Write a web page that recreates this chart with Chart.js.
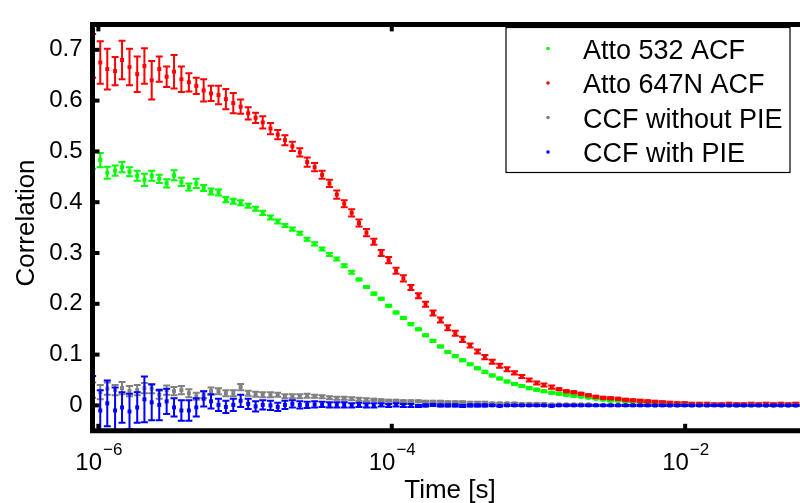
<!DOCTYPE html>
<html>
<head>
<meta charset="utf-8">
<script src="https://cdn.jsdelivr.net/npm/chart.js@4.4.0/dist/chart.umd.min.js"></script>
<style>
html, body { margin: 0; padding: 0; overflow: hidden; background: #fff; }
#wrap { width: 810px; height: 503px; }
</style>
</head>
<body>
<div id="wrap"><canvas id="fcsChart" width="810" height="503"></canvas></div>
<script>
// lag times [s]
const tau = [
  9.14e-7, 1.03e-6, 1.15e-6, 1.30e-6, 1.45e-6, 1.63e-6, 1.84e-6, 2.06e-6, 2.31e-6, 2.60e-6,
  2.92e-6, 3.28e-6, 3.68e-6, 4.14e-6, 4.65e-6, 5.22e-6, 5.86e-6, 6.59e-6, 7.40e-6, 8.31e-6,
  9.33e-6, 1.05e-5, 1.18e-5, 1.32e-5, 1.49e-5, 1.67e-5, 1.87e-5, 2.10e-5, 2.36e-5, 2.65e-5,
  2.98e-5, 3.35e-5, 3.76e-5, 4.22e-5, 4.74e-5, 5.33e-5, 5.98e-5, 6.72e-5, 7.55e-5, 8.48e-5,
  9.52e-5, 1.07e-4, 1.20e-4, 1.35e-4, 1.52e-4, 1.70e-4, 1.91e-4, 2.15e-4, 2.41e-4, 2.71e-4,
  3.04e-4, 3.42e-4, 3.84e-4, 4.31e-4, 4.84e-4, 5.44e-4, 6.11e-4, 6.86e-4, 7.70e-4, 8.65e-4,
  9.72e-4, 1.09e-3, 1.23e-3, 1.38e-3, 1.55e-3, 1.74e-3, 1.95e-3, 2.19e-3, 2.46e-3, 2.76e-3,
  3.10e-3, 3.49e-3, 3.92e-3, 4.40e-3, 4.94e-3, 5.55e-3, 6.23e-3, 7.00e-3, 7.86e-3, 8.83e-3,
  9.92e-3, 1.11e-2, 1.25e-2, 1.41e-2, 1.58e-2, 1.77e-2, 1.99e-2, 2.24e-2, 2.51e-2, 2.82e-2,
  3.17e-2, 3.56e-2, 4.00e-2, 4.49e-2, 5.04e-2, 5.66e-2, 6.36e-2
];

const atto532 = [
  0.482, 0.483, 0.458, 0.462, 0.469, 0.460, 0.452, 0.444, 0.452, 0.446,
  0.437, 0.453, 0.440, 0.430, 0.437, 0.428, 0.421, 0.419, 0.405, 0.402,
  0.399, 0.393, 0.387, 0.379, 0.370, 0.362, 0.354, 0.347, 0.339, 0.327,
  0.318, 0.308, 0.297, 0.288, 0.275, 0.262, 0.248, 0.233, 0.220, 0.210,
  0.196, 0.183, 0.172, 0.160, 0.150, 0.138, 0.127, 0.116, 0.105, 0.097,
  0.089, 0.081, 0.073, 0.066, 0.059, 0.053, 0.047, 0.042, 0.038, 0.034,
  0.031, 0.028, 0.025, 0.023, 0.021, 0.019, 0.017, 0.015, 0.013, 0.011,
  0.009, 0.009, 0.008, 0.007, 0.006, 0.005, 0.004, 0.004, 0.003, 0.003,
  0.002, 0.002, 0.002, 0.001, 0.001, 0.001, 0.001, 0.000, 0.001, 0.000,
  0.001, 0.000, 0.000, 0.001, 0.000, 0.000, 0.000
];
const atto532Err = [
  0.016, 0.014, 0.012, 0.010, 0.010, 0.009, 0.010, 0.012, 0.010, 0.008,
  0.008, 0.010, 0.008, 0.007, 0.009, 0.006, 0.006, 0.006, 0.005, 0.005,
  0.005, 0.004, 0.004, 0.004, 0.004, 0.004, 0.003, 0.003, 0.003, 0.003,
  0.003, 0.003, 0.003, 0.003, 0.003, 0.003, 0.002, 0.002, 0.002, 0.002,
  0.002, 0.002, 0.002, 0.002, 0.002, 0.002, 0.002, 0.002, 0.002, 0.002,
  0.002, 0.002, 0.002, 0.002, 0.002, 0.002, 0.002, 0.002, 0.002, 0.002,
  0.002, 0.002, 0.002, 0.002, 0.002, 0.002, 0.001, 0.001, 0.001, 0.001,
  0.001, 0.001, 0.001, 0.001, 0.001, 0.001, 0.001, 0.001, 0.001, 0.001,
  0.001, 0.001, 0.001, 0.001, 0.001, 0.001, 0.001, 0.001, 0.001, 0.001,
  0.001, 0.001, 0.001, 0.001, 0.001, 0.001, 0.001
];

const atto647N = [
  0.688, 0.675, 0.662, 0.658, 0.680, 0.666, 0.652, 0.668, 0.640, 0.662,
  0.647, 0.657, 0.642, 0.636, 0.629, 0.620, 0.614, 0.611, 0.603, 0.595,
  0.588, 0.575, 0.566, 0.557, 0.545, 0.533, 0.522, 0.510, 0.498, 0.479,
  0.469, 0.454, 0.437, 0.415, 0.397, 0.379, 0.359, 0.340, 0.322, 0.300,
  0.286, 0.265, 0.250, 0.232, 0.216, 0.199, 0.182, 0.168, 0.153, 0.142,
  0.130, 0.118, 0.106, 0.095, 0.086, 0.078, 0.071, 0.064, 0.057, 0.050,
  0.044, 0.040, 0.036, 0.032, 0.028, 0.026, 0.023, 0.020, 0.017, 0.015,
  0.014, 0.013, 0.011, 0.010, 0.009, 0.008, 0.007, 0.006, 0.005, 0.004,
  0.004, 0.003, 0.003, 0.003, 0.002, 0.002, 0.003, 0.002, 0.002, 0.003,
  0.002, 0.003, 0.002, 0.003, 0.002, 0.003, 0.002
];
const atto647NErr = [
  0.043, 0.042, 0.040, 0.028, 0.038, 0.036, 0.035, 0.035, 0.038, 0.025,
  0.020, 0.033, 0.025, 0.018, 0.016, 0.022, 0.015, 0.018, 0.020, 0.020,
  0.014, 0.012, 0.010, 0.012, 0.011, 0.009, 0.010, 0.009, 0.008, 0.009,
  0.008, 0.008, 0.007, 0.008, 0.007, 0.007, 0.007, 0.007, 0.006, 0.006,
  0.006, 0.006, 0.006, 0.005, 0.005, 0.005, 0.005, 0.005, 0.005, 0.005,
  0.005, 0.004, 0.004, 0.004, 0.004, 0.004, 0.004, 0.003, 0.003, 0.003,
  0.003, 0.003, 0.003, 0.002, 0.002, 0.002, 0.002, 0.002, 0.002, 0.002,
  0.002, 0.002, 0.002, 0.002, 0.002, 0.002, 0.002, 0.002, 0.002, 0.002,
  0.002, 0.002, 0.002, 0.002, 0.002, 0.002, 0.002, 0.002, 0.002, 0.002,
  0.002, 0.002, 0.002, 0.002, 0.002, 0.002, 0.002
];

const ccfNoPie = [
  0.030, 0.026, 0.033, 0.030, 0.034, 0.028, 0.030, 0.034, 0.033, 0.021,
  0.030, 0.028, 0.030, 0.024, 0.018, 0.021, 0.028, 0.028, 0.024, 0.024,
  0.036, 0.024, 0.022, 0.021, 0.021, 0.021, 0.018, 0.018, 0.018, 0.019,
  0.018, 0.017, 0.015, 0.014, 0.014, 0.013, 0.012, 0.011, 0.011, 0.010,
  0.009, 0.009, 0.008, 0.008, 0.008, 0.007, 0.007, 0.007, 0.006, 0.006,
  0.006, 0.005, 0.005, 0.005, 0.004, 0.004, 0.004, 0.004, 0.003, 0.003,
  0.003, 0.003, 0.002, 0.002, 0.002, 0.002, 0.002, 0.002, 0.001, 0.001,
  0.001, 0.001, 0.001, 0.001, 0.001, 0.001, 0.000, 0.001, 0.000, 0.000,
  0.001, 0.000, 0.000, 0.000, 0.001, 0.000, 0.000, 0.000, 0.000, 0.001,
  0.000, 0.000, 0.000, 0.000, 0.000, 0.000, 0.000
];
const ccfNoPieErr = [
  0.015, 0.014, 0.012, 0.010, 0.012, 0.010, 0.010, 0.010, 0.009, 0.008,
  0.009, 0.008, 0.008, 0.008, 0.007, 0.007, 0.007, 0.006, 0.006, 0.006,
  0.006, 0.005, 0.005, 0.005, 0.005, 0.004, 0.004, 0.004, 0.004, 0.004,
  0.003, 0.003, 0.003, 0.003, 0.003, 0.003, 0.003, 0.003, 0.002, 0.002,
  0.002, 0.002, 0.002, 0.002, 0.002, 0.002, 0.002, 0.002, 0.002, 0.002,
  0.002, 0.002, 0.002, 0.002, 0.001, 0.001, 0.001, 0.001, 0.001, 0.001,
  0.001, 0.001, 0.001, 0.001, 0.001, 0.001, 0.001, 0.001, 0.001, 0.001,
  0.001, 0.001, 0.001, 0.001, 0.001, 0.001, 0.001, 0.001, 0.001, 0.001,
  0.001, 0.001, 0.001, 0.001, 0.001, 0.001, 0.001, 0.001, 0.001, 0.001,
  0.001, 0.001, 0.001, 0.001, 0.001, 0.001, 0.001
];

const ccfPie = [
  0.003, -0.010, 0.004, -0.010, -0.004, -0.012, -0.004, 0.012, 0.006, 0.001,
  0.008, -0.004, -0.010, -0.010, -0.004, 0.013, 0.008, 0.001, -0.003, 0.001,
  0.009, 0.003, -0.002, 0.001, 0.000, -0.003, 0.001, 0.003, 0.001, 0.001,
  0.002, 0.002, 0.001, 0.001, 0.001, 0.000, 0.001, 0.000, 0.000, 0.001,
  0.000, 0.001, 0.000, 0.000, -0.001, 0.000, 0.001, 0.000, 0.000, 0.000,
  -0.001, 0.000, 0.000, 0.000, 0.000, -0.001, 0.000, 0.000, 0.000, 0.000,
  0.000, 0.000, -0.001, 0.000, 0.000, 0.000, 0.000, 0.000, 0.000, 0.000,
  0.000, 0.000, 0.000, 0.000, 0.000, 0.000, 0.000, 0.000, 0.000, 0.000,
  0.000, 0.000, 0.000, 0.000, 0.000, 0.000, 0.000, 0.000, 0.000, 0.000,
  0.000, 0.000, 0.000, 0.000, 0.000, 0.000, 0.000
];
const ccfPieErr = [
  0.055, 0.040, 0.045, 0.045, 0.030, 0.035, 0.030, 0.045, 0.035, 0.030,
  0.025, 0.018, 0.020, 0.020, 0.018, 0.015, 0.014, 0.012, 0.012, 0.012,
  0.012, 0.010, 0.010, 0.009, 0.009, 0.008, 0.008, 0.007, 0.007, 0.006,
  0.006, 0.005, 0.005, 0.005, 0.005, 0.004, 0.004, 0.004, 0.004, 0.003,
  0.003, 0.003, 0.003, 0.003, 0.002, 0.002, 0.002, 0.002, 0.002, 0.002,
  0.002, 0.002, 0.002, 0.002, 0.001, 0.001, 0.001, 0.001, 0.001, 0.001,
  0.001, 0.001, 0.001, 0.001, 0.001, 0.001, 0.001, 0.001, 0.001, 0.001,
  0.001, 0.001, 0.001, 0.001, 0.001, 0.001, 0.001, 0.001, 0.001, 0.001,
  0.001, 0.001, 0.001, 0.001, 0.001, 0.001, 0.001, 0.001, 0.001, 0.001,
  0.001, 0.001, 0.001, 0.001, 0.001, 0.001, 0.001
];

const yTicks = [0, 0.1, 0.2, 0.3, 0.4, 0.5, 0.6, 0.7];
const xTicks = [1e-6, 1e-4, 1e-2];
const xTickExp = ['\u22126', '\u22124', '\u22122'];

const FONT = '"Liberation Sans", Arial, Helvetica, sans-serif';

function pts(vals) {
  return vals.map((v, i) => ({ x: tau[i], y: v }));
}

// vertical error bars with small caps, drawn through the y scale
const errorBars = {
  id: 'errorBars',
  afterDatasetDraw(chart, args) {
    const ds = chart.data.datasets[args.index];
    if (!ds.err) return;
    const ctx = chart.ctx;
    const yScale = chart.scales.y;
    const a = chart.chartArea;
    ctx.save();
    ctx.beginPath();
    ctx.rect(a.left, a.top, a.right - a.left, a.bottom - a.top);
    ctx.clip();
    ctx.strokeStyle = ds.backgroundColor;
    ctx.lineWidth = 2;
    args.meta.data.forEach((pt, i) => {
      const v = ds.data[i].y;
      const e = ds.err[i];
      const y1 = yScale.getPixelForValue(v + e);
      const y2 = yScale.getPixelForValue(v - e);
      ctx.beginPath();
      ctx.moveTo(pt.x, y1); ctx.lineTo(pt.x, y2);
      ctx.moveTo(pt.x - 3.5, y1); ctx.lineTo(pt.x + 3.5, y1);
      ctx.moveTo(pt.x - 3.5, y2); ctx.lineTo(pt.x + 3.5, y2);
      ctx.stroke();
    });
    ctx.restore();
  }
};

// thick axis box, inward ticks, superscript x labels, titles and legend
const frame = {
  id: 'frame',
  afterDraw(chart) {
    const ctx = chart.ctx;
    const a = chart.chartArea;
    const xs = chart.scales.x;
    const ys = chart.scales.y;
    ctx.save();
    ctx.fillStyle = '#000';
    ctx.strokeStyle = '#000';
    ctx.lineWidth = 5;
    ctx.beginPath();
    ctx.moveTo(a.left, a.top); ctx.lineTo(a.right, a.top);
    ctx.moveTo(a.left, a.bottom + 2.5); ctx.lineTo(a.left, a.top - 2.5);
    ctx.moveTo(a.left, a.bottom); ctx.lineTo(a.right, a.bottom);
    ctx.moveTo(a.right, a.bottom + 2.5); ctx.lineTo(a.right, a.top - 2.5);
    ctx.stroke();

    yTicks.forEach(v => {
      const py = ys.getPixelForValue(v);
      ctx.fillRect(a.left, py - 2, 7, 4);
    });
    xTicks.forEach((v, i) => {
      const px = xs.getPixelForValue(v);
      ctx.fillRect(px - 2, a.bottom - 7, 4, 7);
      ctx.fillRect(px - 2, a.top, 4, 7);
      // 10^exp label
      ctx.font = '24px ' + FONT;
      const wBase = ctx.measureText('10').width;
      ctx.font = '17px ' + FONT;
      const wExp = ctx.measureText(xTickExp[i]).width;
      const x0 = px - (wBase + wExp) / 2;
      ctx.textAlign = 'left';
      ctx.textBaseline = 'alphabetic';
      ctx.font = '24px ' + FONT;
      ctx.fillText('10', x0, 470);
      ctx.font = '17px ' + FONT;
      ctx.fillText(xTickExp[i], x0 + wBase + 1, 455);
    });

    // axis titles
    ctx.font = '26px ' + FONT;
    ctx.textAlign = 'center';
    ctx.textBaseline = 'alphabetic';
    ctx.fillText('Time [s]', 450, 498);
    ctx.save();
    ctx.translate(34, 223);
    ctx.rotate(-Math.PI / 2);
    ctx.fillText('Correlation', 0, 0);
    ctx.restore();

    // legend
    ctx.lineWidth = 1.2;
    ctx.fillStyle = '#fff';
    ctx.fillRect(506, 27.5, 284, 145);
    ctx.strokeRect(506, 27.5, 284, 145);
    ctx.font = '27px ' + FONT;
    ctx.textAlign = 'left';
    chart.data.datasets.forEach((ds, i) => {
      const cy = 48.5 + i * 34.5;
      ctx.fillStyle = ds.backgroundColor;
      ctx.beginPath();
      ctx.arc(548, cy, 1.8, 0, Math.PI * 2);
      ctx.fill();
      ctx.fillStyle = '#000';
      ctx.fillText(ds.label, 583, cy + 10);
    });
    ctx.restore();
  }
};

new Chart(document.getElementById('fcsChart'), {
  type: 'scatter',
  data: {
    datasets: [
      { label: 'Atto 532 ACF', data: pts(atto532), err: atto532Err, backgroundColor: '#00ff00', order: 4 },
      { label: 'Atto 647N ACF', data: pts(atto647N), err: atto647NErr, backgroundColor: '#ff0000', order: 3 },
      { label: 'CCF without PIE', data: pts(ccfNoPie), err: ccfNoPieErr, backgroundColor: '#808080', order: 2 },
      { label: 'CCF with PIE', data: pts(ccfPie), err: ccfPieErr, backgroundColor: '#0000ff', order: 1 }
    ]
  },
  options: {
    responsive: false,
    animation: false,
    events: [],
    layout: { autoPadding: false, padding: { top: 14.2, left: 0, right: 2.7, bottom: 0 } },
    elements: {
      point: { pointStyle: 'rect', radius: 2.8, borderWidth: 0 }
    },
    datasets: { scatter: { clip: false } },
    plugins: { legend: { display: false }, tooltip: { enabled: false } },
    scales: {
      x: {
        type: 'logarithmic',
        min: 9.12e-7,
        max: 0.068,
        grid: { display: false, drawTicks: false },
        border: { display: false },
        ticks: { display: false },
        afterFit(scale) { scale.height = 72.2; }
      },
      y: {
        min: -0.05,
        max: 0.75,
        grid: { display: false, drawTicks: false },
        border: { display: false },
        afterBuildTicks(scale) { scale.ticks = yTicks.map(v => ({ value: v })); },
        ticks: {
          color: '#000',
          padding: 10,
          font: { family: FONT, size: 24 },
          callback: v => String(v)
        },
        afterFit(scale) { scale.width = 92.5; }
      }
    }
  },
  plugins: [errorBars, frame]
});
</script>
</body>
</html>
